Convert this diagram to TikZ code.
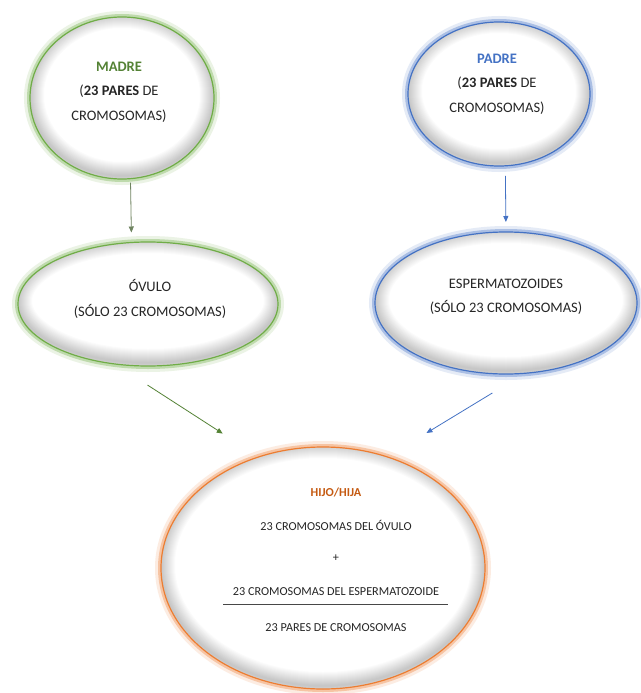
\documentclass[tikz,border=0pt]{standalone}
\usepackage{fontspec}
\setmainfont{Carlito}
\usetikzlibrary{arrows.meta,shapes.geometric,calc}
\definecolor{gr}{HTML}{70AD47}
\definecolor{grd}{HTML}{548235}
\definecolor{bl}{HTML}{4472C4}
\definecolor{orr}{HTML}{ED7D31}
\definecolor{ord}{HTML}{C55A11}
\definecolor{txt}{HTML}{262626}
\definecolor{agr}{HTML}{6F8460}
\newcommand\innershade[2]{%
  \foreach \w in {2,4,...,28}{%
    \draw[line width=\w pt, black, opacity=0.017] ($(path picture bounding box.center)+(0,-3)$) ellipse [x radius=#1pt, y radius=#2pt];}}
\tikzset{
  bubble/.style n args={3}{ellipse, minimum width={2*#1pt}, minimum height={2*#2pt},
    inner sep=0pt, outer sep=0pt, fill=white, draw=#3, line width=1.2pt,
    preaction={draw=#3!35, line width=12pt, opacity=.4},
    preaction={draw=#3!55, line width=6pt, opacity=.75},
    path picture={\innershade{#1}{#2}}},
  lbl/.style={align=center, text=txt, font=\fontsize{14.5}{24.5}\selectfont, inner sep=0pt},
  small/.style={text=txt, font=\fontsize{12.2}{14}\selectfont, inner sep=0pt},
  arr/.style={-{Triangle[length=6pt,width=5pt]}, line width=0.8pt}
}
\begin{document}
\begin{tikzpicture}[x=1pt,y=-1pt]
\useasboundingbox (0,0) rectangle (640,693);
\fill[white] (0,0) rectangle (640,693);
\node[bubble={92}{81}{gr}] (madre) at (122,98) {};
\node[bubble={91}{72}{bl}] (padre) at (499,94) {};
\node[bubble={130}{62}{gr}] (ovulo) at (148,304) {};
\node[bubble={131}{71}{bl}] (esp) at (506,303) {};
\node[bubble={162}{121}{orr}] (hijo) at (323,568) {};

\node[lbl] (tm) at (119,92) {\textcolor{grd}{\bfseries MADRE}\\(\textbf{23 PARES} DE\\CROMOSOMAS)};
\node[lbl] (tp) at (497,84) {\textcolor{bl}{\bfseries PADRE}\\(\textbf{23 PARES} DE\\CROMOSOMAS)};
\node[lbl] (to) at (150,299) {ÓVULO\\(SÓLO 23 CROMOSOMAS)};
\node[lbl] (te) at (506,297) {ESPERMATOZOIDES\\(SÓLO 23 CROMOSOMAS)};

\node[small, text=ord, font=\fontsize{12.2}{14}\selectfont\bfseries] (th) at (336,492) {HIJO/HIJA};
\node[small] (t1) at (336,525) {23 CROMOSOMAS DEL ÓVULO};
\node[small] (t2) at (336,558) {+};
\node[small] (t3) at (336,592) {23 CROMOSOMAS DEL ESPERMATOZOIDE};
\node[small] (t4) at (336,628) {23 PARES DE CROMOSOMAS};
\draw[line width=1pt, txt!85] (223,604) -- (448,604);

\draw[arr, agr, shorten <=4pt, shorten >=10pt] (madre.-84) -- (ovulo.105.3);
\draw[arr, bl, shorten <=10pt, shorten >=10pt] (padre.-85.2) -- (esp.90.8);
\draw[arr, grd, shorten <=39pt, shorten >=43pt] (ovulo.-119.4) -- (hijo.120.1);
\draw[arr, bl, shorten <=38pt, shorten >=46pt] (esp.-75.2) -- (hijo.60.2);
\end{tikzpicture}
\end{document}
